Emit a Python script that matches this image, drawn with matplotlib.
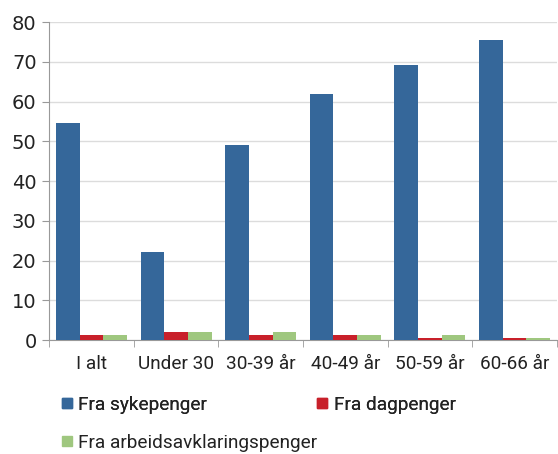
import numpy as np
import matplotlib.pyplot as plt
from matplotlib.lines import Line2D

# share (%) by age group
groups = ['I alt', 'Under 30', '30-39 år', '40-49 år', '50-59 år', '60-66 år']
sykepenger = [54.6, 22.1, 49.1, 61.9, 69.2, 75.5]
dagpenger = [1.3, 1.9, 1.3, 1.3, 0.6, 0.6]
aap = [1.3, 1.9, 2.0, 1.3, 1.3, 0.5]
labels = ['Fra sykepenger', 'Fra dagpenger', 'Fra arbeidsavklaringspenger']
colors = ['#35679A', '#C8202A', '#9FC77F']

fig = plt.figure(figsize=(5.58, 4.54), dpi=100)
ax = fig.add_axes([0.088, 0.251, 0.91, 0.7])

x = np.arange(len(groups))
w = 0.28
for i, vals in enumerate([sykepenger, dagpenger, aap]):
    ax.bar(x + (i - 1) * w, vals, width=w, color=colors[i], zorder=3)

ax.set_xlim(-0.5, len(groups) - 0.5)
ax.set_ylim(0, 80)
ax.set_yticks(range(0, 81, 10))
ax.grid(axis='y', color='#dcdcdc', linewidth=1, zorder=0)

ax.set_xticks(x)
ax.set_xticklabels(groups, fontsize=13.7, family='Roboto', color='#222222')
ax.set_xticks(np.arange(-0.5, len(groups)), minor=True)
ax.tick_params(axis='x', which='major', length=0, pad=11)
ax.tick_params(axis='x', which='minor', length=5, color='#999999')
ax.tick_params(axis='y', length=5, color='#999999', labelsize=14, labelcolor='#222222', pad=4)

for s in ['top', 'right']:
    ax.spines[s].set_visible(False)
for s in ['left', 'bottom']:
    ax.spines[s].set_color('#999999')

handles = [Line2D([], [], marker='s', linestyle='none', markersize=7, color=c) for c in colors]
kw = dict(loc='center left', frameon=False, prop={'family': 'Roboto', 'size': 13.7},
          handlelength=0.6, handletextpad=0.3, labelcolor='#222222',
          borderaxespad=0, borderpad=0)
leg1 = fig.legend(handles[:2], labels[:2], bbox_to_anchor=(61 / 558, 1 - 405 / 454),
                  ncol=2, columnspacing=5.75, **kw)
fig.add_artist(leg1)
fig.legend(handles[2:], labels[2:], bbox_to_anchor=(61 / 558, 1 - 443 / 454), **kw)

fig.savefig('out.png', dpi=100, facecolor='white')
